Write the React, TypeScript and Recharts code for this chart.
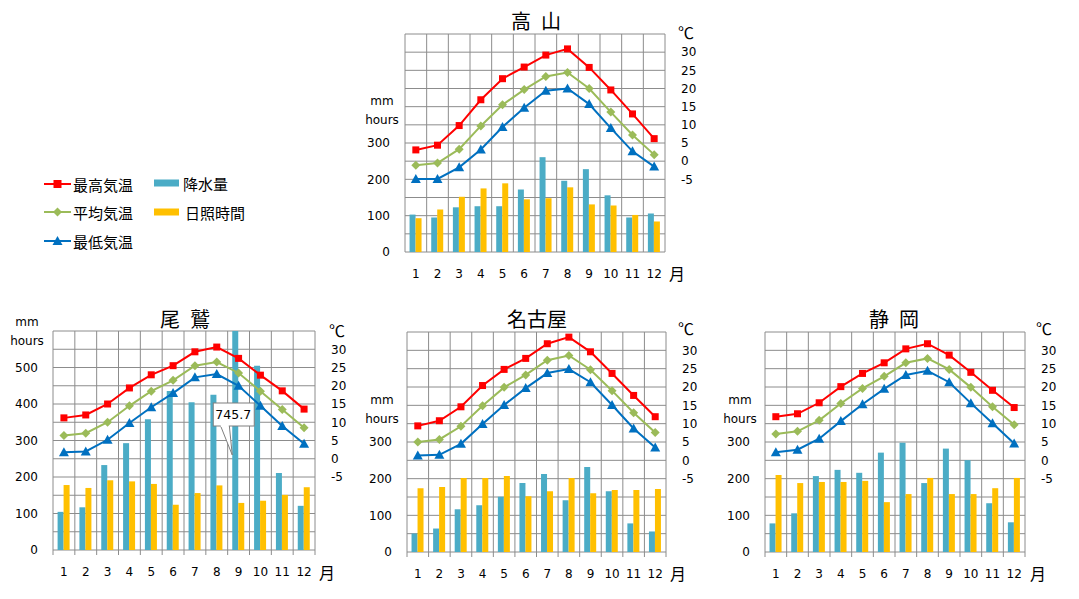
import React from 'react';
import { ComposedChart, Bar, Line, XAxis, YAxis, CartesianGrid, LabelList } from 'recharts';

// ---------- data ----------
const months = ['1', '2', '3', '4', '5', '6', '7', '8', '9', '10', '11', '12'];
const tempTicks = [-5, 0, 5, 10, 15, 20, 25, 30];
const mmTicksShort = [0, 100, 200, 300];
const mmTicksLong = [0, 100, 200, 300, 400, 500];

const tkMax = [3.1, 4.4, 9.8, 16.9, 22.7, 25.9, 29.2, 30.9, 25.8, 19.6, 13.0, 6.2];
const tkAvg = [-1.1, -0.5, 3.3, 9.7, 15.5, 19.7, 23.3, 24.4, 20.0, 13.5, 7.2, 1.8];
const tkMin = [-4.9, -4.9, -1.7, 3.2, 9.4, 14.7, 19.4, 20.0, 15.7, 9.1, 2.7, -1.5];
const tkRain = [103, 95, 123, 126, 126, 172, 261, 196, 228, 156, 95, 106];
const tkSun = [93, 117, 152, 175, 189, 145, 148, 178, 131, 128, 102, 84];

const owMax = [11.2, 12.0, 15.0, 19.4, 23.0, 25.5, 29.3, 30.6, 27.5, 22.9, 18.6, 13.6];
const owAvg = [6.4, 7.0, 10.0, 14.5, 18.5, 21.5, 25.5, 26.5, 23.5, 18.5, 13.5, 8.5];
const owMin = [1.8, 2.0, 5.2, 9.8, 14.1, 18.0, 22.3, 23.2, 20.0, 14.5, 9.0, 4.1];
const owRain = [104.5, 117, 232.7, 292.7, 358, 435.5, 404.5, 425.5, 745.7, 504.5, 211, 121];
const owSun = [178, 170, 191, 188, 181, 124, 156, 177, 129, 135, 151, 172];

const ngMax = [9.4, 10.8, 14.6, 20.4, 24.8, 27.8, 31.8, 33.6, 29.6, 23.7, 17.7, 11.9];
const ngAvg = [5.0, 5.7, 9.3, 14.9, 19.9, 23.3, 27.3, 28.6, 24.7, 19.0, 13.0, 7.6];
const ngMin = [1.3, 1.5, 4.5, 9.9, 15.1, 19.7, 23.8, 24.9, 21.3, 15.1, 8.7, 3.5];
const ngRain = [50.5, 64, 116.5, 127.5, 151, 188, 213, 141, 232, 166, 78, 56];
const ngSun = [174, 177, 202, 202, 207, 152, 166, 202, 160, 169, 169, 172];

const szMax = [11.9, 12.7, 15.7, 20.1, 23.7, 26.6, 30.4, 31.8, 28.7, 24.0, 19.1, 14.4];
const szAvg = [7.2, 7.9, 10.9, 15.5, 19.6, 22.9, 26.6, 27.8, 24.8, 19.9, 14.6, 9.7];
const szMin = [2.2, 2.9, 5.9, 10.7, 15.3, 19.5, 23.3, 24.4, 21.3, 15.6, 10.1, 4.6];
const szRain = [78, 105.5, 207, 224, 216, 271, 298, 188, 282, 250.5, 133, 81];
const szSun = [210, 188, 191, 191, 194, 136, 158, 202, 158, 158, 174, 202];

const seriesNames = { max: '最高気温', avg: '平均気温', min: '最低気温', rain: '降水量', sun: '日照時間' };

// ---------- style ----------
const RED = '#FF0000';
const GREEN = '#9BBB59';
const BLUE = '#0070C0';
const TEAL = '#4BACC6';
const GOLD = '#FFC000';
const GRID = '#8C8C8C';
const LATIN = '"DejaVu Sans", Verdana, sans-serif';
const CJK = '"Noto Sans CJK JP", "Noto Sans", sans-serif';

const WL = 60;
const WR = 60;
const MT = 10;
const XH = 40;

function build(max: number[], avg: number[], min: number[], rain: number[], sun: number[]) {
  return months.map((m, i) => ({ m, max: max[i], avg: avg[i], min: min[i], rain: rain[i], sun: sun[i] }));
}

const SquareDot = (p: any) => (
  <rect key={`s${p.index}`} x={p.cx - 3.5} y={p.cy - 3.5} width={7} height={7} fill={RED} />
);
const DiamondDot = (p: any) => (
  <polygon
    key={`d${p.index}`}
    points={`${p.cx},${p.cy - 4.5} ${p.cx + 4.5},${p.cy} ${p.cx},${p.cy + 4.5} ${p.cx - 4.5},${p.cy}`}
    fill={GREEN}
  />
);
const TriDot = (p: any) => (
  <polygon
    key={`t${p.index}`}
    points={`${p.cx},${p.cy - 5} ${p.cx + 5},${p.cy + 4} ${p.cx - 5},${p.cy + 4}`}
    fill={BLUE}
  />
);

const Callout = (p: any) => {
  const { x, y, width, height, value } = p;
  if (value == null || value <= 600) return null;
  const bottom = y + height;
  const cx = x + width / 2 - 2;
  const bx = cx - 20;
  const by = bottom - 147;
  const bw = 41;
  const bh = 23;
  const tipX = x;
  const tipY = bottom - 95;
  return (
    <g>
      <polygon
        points={`${cx - 13},${by + bh - 1} ${tipX},${tipY} ${cx - 4},${by + bh - 1}`}
        fill="#fff"
        stroke="#7F7F7F"
        strokeWidth={1}
      />
      <rect x={bx} y={by} width={bw} height={bh} fill="#fff" stroke="#7F7F7F" strokeWidth={1} />
      <rect x={cx - 12.5} y={by + bh - 2} width={8} height={3} fill="#fff" />
      <text x={cx} y={by + bh / 2 + 4.5} textAnchor="middle" fontSize={12.5} fontFamily={LATIN} fill="#000">
        {value}
      </text>
    </g>
  );
};

type ChartProps = {
  data: any[];
  px: number;
  py: number;
  pw: number;
  ph: number;
  leftTicks: number[];
  tickMarks: boolean;
  callout?: boolean;
};

function ClimateChart({ data, px, py, pw, ph, leftTicks, tickMarks, callout }: ChartProps) {
  const W = WL + pw + WR;
  const H = MT + ph + XH;
  const hPoints = Array.from({ length: 13 }, (_, i) => MT + (ph * i) / 12);
  const vPoints = Array.from({ length: 13 }, (_, i) => WL + (pw * i) / 12);
  const ext = tickMarks ? 5 : 0;
  return (
    <div style={{ position: 'absolute', left: px - WL, top: py - MT, width: W, height: H }}>
      <ComposedChart
        width={W}
        height={H}
        data={data}
        margin={{ top: MT, right: 0, bottom: 0, left: 0 }}
        barCategoryGap="21%"
        barGap={0}
      >
        <CartesianGrid
          horizontalPoints={hPoints}
          verticalPoints={vPoints}
          stroke={GRID}
          strokeWidth={1}
          vertical={(p: any) => (
            <line key={p.key} x1={p.x1} x2={p.x2} y1={p.y1} y2={p.y2 + ext} stroke={GRID} strokeWidth={1} />
          )}
        />
        <XAxis
          dataKey="m"
          axisLine={false}
          tickLine={false}
          tickSize={0}
          tickMargin={17}
          height={XH}
          interval={0}
          tick={{ fontSize: 12, fill: '#000', fontFamily: LATIN }}
        />
        <YAxis
          yAxisId="mm"
          domain={[0, 600]}
          ticks={leftTicks}
          allowDataOverflow
          width={WL}
          axisLine={false}
          tickLine={false}
          tickSize={0}
          tickMargin={15}
          interval={0}
          tick={{ fontSize: 12, fill: '#000', fontFamily: LATIN }}
        />
        <YAxis
          yAxisId="t"
          orientation="right"
          domain={[-25, 35]}
          ticks={tempTicks}
          allowDataOverflow
          width={WR}
          axisLine={false}
          tickLine={false}
          tickSize={0}
          tickMargin={16}
          interval={0}
          tick={{ fontSize: 12, fill: '#000', fontFamily: LATIN, textAnchor: 'start' }}
        />
        <Bar yAxisId="mm" dataKey="rain" name={seriesNames.rain} fill={TEAL} isAnimationActive={false}>
          {callout ? <LabelList dataKey="rain" content={Callout} /> : null}
        </Bar>
        <Bar yAxisId="mm" dataKey="sun" name={seriesNames.sun} fill={GOLD} isAnimationActive={false} />
        <Line
          yAxisId="t"
          dataKey="min"
          name={seriesNames.min}
          stroke={BLUE}
          strokeWidth={2}
          dot={TriDot}
          activeDot={false}
          isAnimationActive={false}
        />
        <Line
          yAxisId="t"
          dataKey="avg"
          name={seriesNames.avg}
          stroke={GREEN}
          strokeWidth={2}
          dot={DiamondDot}
          activeDot={false}
          isAnimationActive={false}
        />
        <Line
          yAxisId="t"
          dataKey="max"
          name={seriesNames.max}
          stroke={RED}
          strokeWidth={2}
          dot={SquareDot}
          activeDot={false}
          isAnimationActive={false}
        />
      </ComposedChart>
    </div>
  );
}

type LabelSet = {
  title: string;
  tx: number;
  ty: number;
  mmx: number;
  mmy: number;
  cx: number;
  cy: number;
  gx: number;
  gy: number;
};

const labelSets: LabelSet[] = [
  { title: '高\u2002山', tx: 536, ty: 20, mmx: 382, mmy: 101, cx: 686, cy: 32, gx: 677, gy: 273 },
  { title: '尾\u2002鷲', tx: 185, ty: 318, mmx: 27, mmy: 322, cx: 337, cy: 330, gx: 327, gy: 572 },
  { title: '名古屋', tx: 537, ty: 318, mmx: 382, mmy: 400, cx: 686, cy: 328, gx: 678, gy: 573 },
  { title: '静\u2002岡', tx: 894, ty: 318, mmx: 740, mmy: 400, cx: 1044, cy: 328, gx: 1038, gy: 573 },
];

function Overlay() {
  return (
    <svg width={1079} height={599} style={{ position: 'absolute', left: 0, top: 0, pointerEvents: 'none' }}>
      {labelSets.map((s) => (
        <g key={s.title}>
          <text
            x={s.tx}
            y={s.ty}
            textAnchor="middle"
            dominantBaseline="central"
            fontSize={20}
            fontFamily={CJK}
            fill="#000"
          >
            {s.title}
          </text>
          <text x={s.mmx} y={s.mmy} textAnchor="middle" dominantBaseline="central" fontSize={12} fontFamily={LATIN} fill="#000">
            mm
          </text>
          <text x={s.mmx} y={s.mmy + 19} textAnchor="middle" dominantBaseline="central" fontSize={12} fontFamily={LATIN} fill="#000">
            hours
          </text>
          <text x={s.cx} y={s.cy} textAnchor="middle" dominantBaseline="central" fontSize={16} fontFamily={CJK} fill="#000">
            ℃
          </text>
          <text x={s.gx} y={s.gy} textAnchor="middle" dominantBaseline="central" fontSize={16} fontFamily={CJK} fill="#000">
            月
          </text>
        </g>
      ))}
      {/* legend */}
      <g fontFamily={CJK} fontSize={15} fill="#000">
        <line x1={44} x2={71} y1={184} y2={184} stroke={RED} strokeWidth={2} />
        <rect x={53.5} y={180} width={8} height={8} fill={RED} />
        <text x={73} y={184} dominantBaseline="central">{seriesNames.max}</text>

        <line x1={44} x2={71} y1={212} y2={212} stroke={GREEN} strokeWidth={2} />
        <polygon points="57.5,207.5 62,212 57.5,216.5 53,212" fill={GREEN} />
        <text x={73} y={212} dominantBaseline="central">{seriesNames.avg}</text>

        <line x1={44} x2={71} y1={241} y2={241} stroke={BLUE} strokeWidth={2} />
        <polygon points="57.5,236 62.5,245 52.5,245" fill={BLUE} />
        <text x={73} y={241} dominantBaseline="central">{seriesNames.min}</text>

        <rect x={154} y={179.5} width={25} height={7} fill={TEAL} />
        <text x={183} y={183} dominantBaseline="central">{seriesNames.rain}</text>

        <rect x={154} y={208.5} width={25} height={7} fill={GOLD} />
        <text x={185} y={212} dominantBaseline="central">{seriesNames.sun}</text>
      </g>
    </svg>
  );
}

export default function App() {
  return (
    <div style={{ position: 'absolute', left: 0, top: 0, width: 1079, height: 599, background: '#fff', overflow: 'hidden' }}>
      <ClimateChart data={build(tkMax, tkAvg, tkMin, tkRain, tkSun)} px={405} py={34} pw={260} ph={218} leftTicks={mmTicksShort} tickMarks={false} />
      <ClimateChart data={build(owMax, owAvg, owMin, owRain, owSun)} px={53} py={331} pw={262} ph={219} leftTicks={mmTicksLong} tickMarks={true} callout />
      <ClimateChart data={build(ngMax, ngAvg, ngMin, ngRain, ngSun)} px={407} py={332} pw={259} ph={220} leftTicks={mmTicksShort} tickMarks={true} />
      <ClimateChart data={build(szMax, szAvg, szMin, szRain, szSun)} px={765} py={332} pw={260} ph={220} leftTicks={mmTicksShort} tickMarks={true} />
      <Overlay />
    </div>
  );
}
